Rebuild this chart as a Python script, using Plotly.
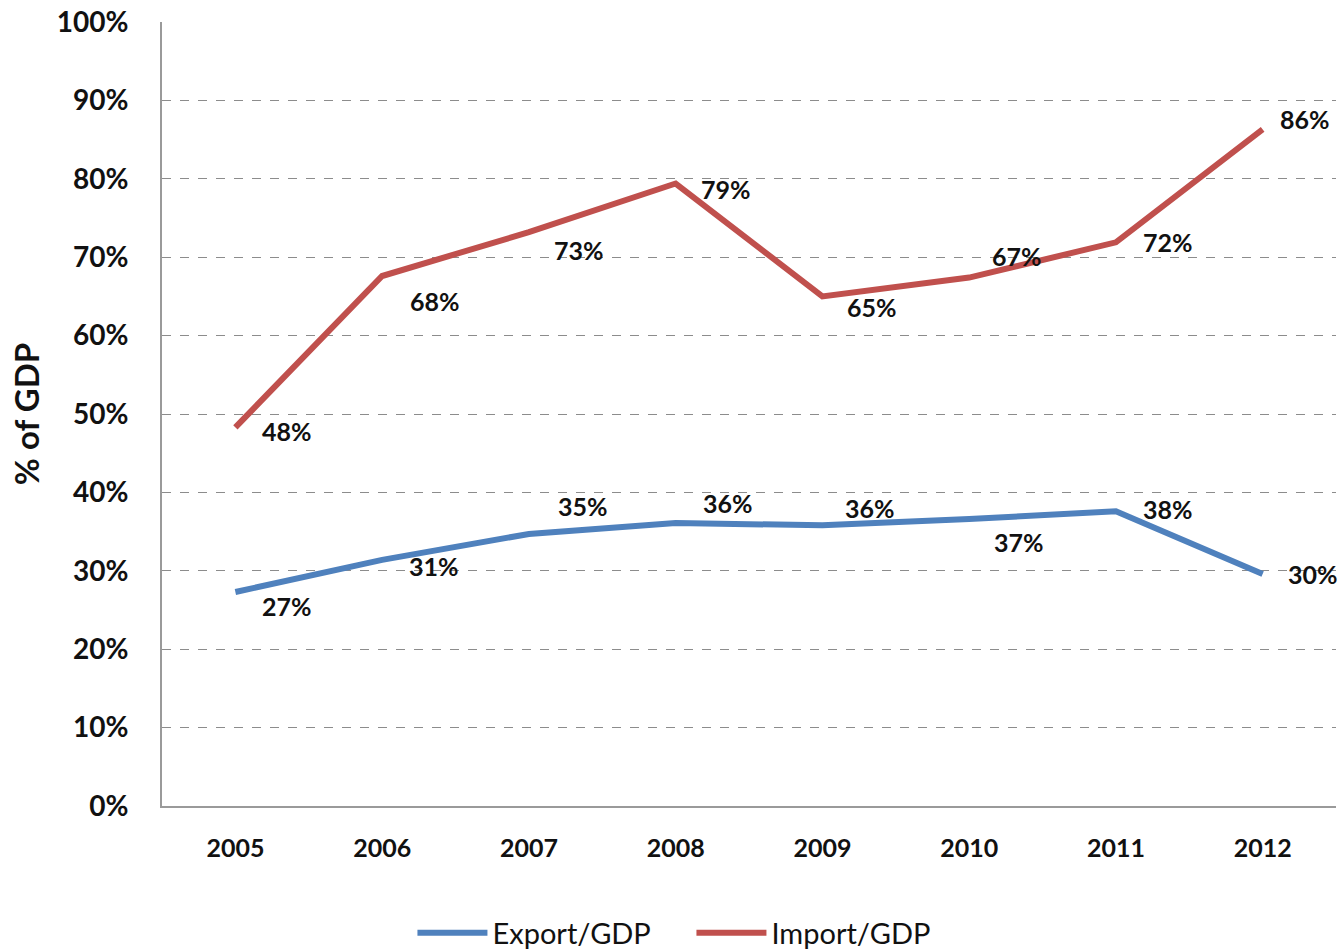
import plotly.graph_objects as go

years = ["2005", "2006", "2007", "2008", "2009", "2010", "2011", "2012"]
export_gdp = [27.3, 31.4, 34.7, 36.1, 35.8, 36.6, 37.6, 29.6]
import_gdp = [48.3, 67.6, 73.2, 79.4, 65.0, 67.4, 71.9, 86.3]
y_ticks = [0, 10, 20, 30, 40, 50, 60, 70, 80, 90, 100]

# label offsets (pixels) relative to each point
export_shift = [(52, -14), (52, -6), (54, 28), (52, 20), (48, 17), (50, -23), (52, 2), (50, 0)]
import_shift = [(52, -4), (53, -25), (50, -18), (50, -5), (50, -11), (48, 22), (52, 0), (42, 10)]

BLUE = "#4F81BD"
RED = "#C0504D"
FONT = "Lato, Open Sans, sans-serif"

fig = go.Figure()
fig.add_trace(go.Scatter(x=years, y=export_gdp, mode="lines", name="Export/GDP",
                         line=dict(color=BLUE, width=6)))
fig.add_trace(go.Scatter(x=years, y=import_gdp, mode="lines", name="Import/GDP",
                         line=dict(color=RED, width=6)))

for vals, shifts in ((export_gdp, export_shift), (import_gdp, import_shift)):
    for i, (v, (dx, dy)) in enumerate(zip(vals, shifts)):
        fig.add_annotation(x=i, y=v, text=f"<b>{round(v)}%</b>", showarrow=False,
                           xshift=dx, yshift=dy,
                           font=dict(family=FONT, size=25, color="#111111"))

fig.update_layout(
    width=1340, height=950,
    margin=dict(l=162, r=4, t=22, b=144),
    paper_bgcolor="white", plot_bgcolor="white",
    font=dict(family=FONT, color="#111111"),
    showlegend=True,
    legend=dict(orientation="h", xref="container", x=0.516, xanchor="center",
                yref="container", y=0.018, yanchor="middle",
                font=dict(family=FONT, size=29, color="#111111"),
                itemwidth=70, entrywidth=194, tracegroupgap=0),
)
fig.update_xaxes(
    type="category", range=[-0.5, 7.5], showgrid=False, showline=True,
    linecolor="#9a9a9a", linewidth=2,
    ticks="outside", ticklen=19, tickcolor="rgba(0,0,0,0)",
    tickfont=dict(family=FONT, size=25, color="#111111"),
    tickprefix="<b>", ticksuffix="</b>",
)
fig.update_yaxes(
    range=[0, 100], tickvals=y_ticks, ticktext=[f"<b>{t}%</b>" for t in y_ticks],
    showgrid=True, gridcolor="#8c8c8c", griddash="dash", gridwidth=1,
    showline=True, linecolor="#9a9a9a", linewidth=2, zeroline=False,
    ticks="outside", ticklen=26, tickcolor="rgba(0,0,0,0)",
    tickfont=dict(family=FONT, size=28, color="#111111"),
    title=dict(text="<b>% of GDP</b>", font=dict(family=FONT, size=33, color="#111111"),
               standoff=7),
)

fig.write_html("out.html")
